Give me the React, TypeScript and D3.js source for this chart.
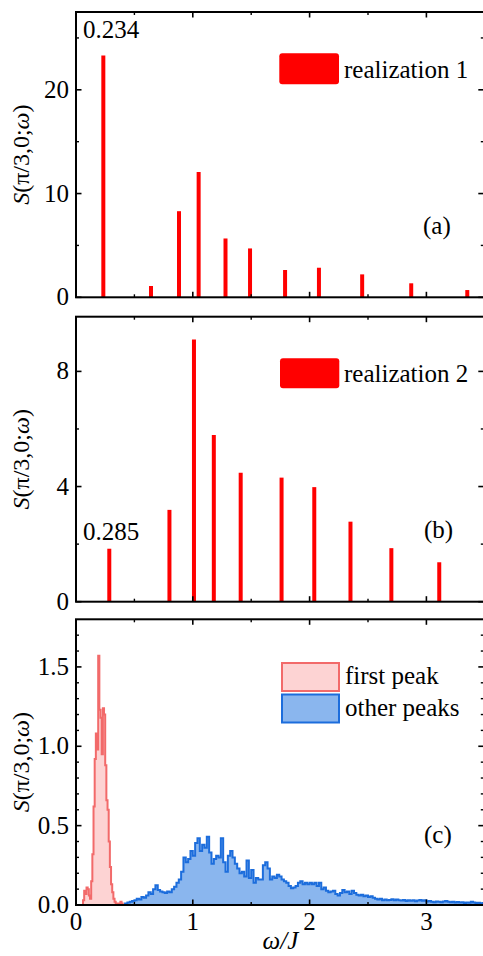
import React from "react";
import * as d3 from "d3";

// ---------- data ----------
const realization1Omega = [0.234, 0.642, 0.882, 1.05, 1.28, 1.49, 1.79, 2.08, 2.45, 2.87, 3.35];
const realization1S = [23.3, 1.09, 8.3, 12.08, 5.67, 4.71, 2.63, 2.85, 2.21, 1.35, 0.7];
const realization2Omega = [0.285, 0.8, 1.01, 1.18, 1.41, 1.76, 2.04, 2.35, 2.7, 3.11];
const realization2S = [1.84, 3.19, 9.11, 5.79, 4.48, 4.31, 3.98, 2.78, 1.86, 1.37];

const firstPeakStart = 0.06;
const firstPeakBin = 0.01;
const firstPeakValues = [
  0.03, 0.09, 0.07, 0.11, 0.1, 0.06, 0.04, 0.15, 0.32, 0.62,
  0.92, 1.08, 0.98, 1.57, 1.23, 1.18, 0.95, 1.24, 1.2, 0.88,
  0.66, 0.6, 0.4, 0.24, 0.13, 0.08, 0.04, 0.02, 0.01, 0.01,
  0.0, 0.01, 0.02, 0.01, 0.0,
];

const otherPeaksStart = 0.42;
const otherPeaksBin = 0.02;
const otherPeaksValues = [
  0.01, 0.015, 0.02, 0.025, 0.03, 0.04, 0.035, 0.05, 0.045, 0.06,
  0.08, 0.07, 0.1, 0.125, 0.095, 0.085, 0.08, 0.075, 0.085, 0.08,
  0.1, 0.115, 0.14, 0.16, 0.21, 0.3, 0.27, 0.29, 0.34, 0.31,
  0.39, 0.42, 0.34, 0.38, 0.36, 0.43, 0.33, 0.26, 0.29, 0.31,
  0.3, 0.42, 0.27, 0.21, 0.31, 0.34, 0.3, 0.26, 0.23, 0.2,
  0.21, 0.18, 0.28, 0.17, 0.22, 0.14, 0.17, 0.16, 0.16, 0.25,
  0.27, 0.23, 0.16, 0.18, 0.17, 0.19, 0.18, 0.16, 0.15, 0.14,
  0.12, 0.105, 0.11, 0.12, 0.14, 0.15, 0.13, 0.14, 0.13, 0.14,
  0.13, 0.14, 0.12, 0.14, 0.1, 0.11, 0.09, 0.08, 0.085, 0.09,
  0.07, 0.06, 0.075, 0.095, 0.08, 0.085, 0.07, 0.09, 0.075, 0.065,
  0.06, 0.065, 0.055, 0.06, 0.05, 0.055, 0.045, 0.04, 0.035, 0.04,
  0.03, 0.035, 0.03, 0.032, 0.036, 0.03, 0.034, 0.03, 0.028, 0.032,
  0.025, 0.03, 0.027, 0.03, 0.024, 0.028, 0.032, 0.026, 0.03, 0.022,
  0.025, 0.02, 0.018, 0.022, 0.02, 0.017, 0.022, 0.025, 0.02, 0.018,
  0.02, 0.016, 0.019, 0.015, 0.017, 0.013, 0.016, 0.014, 0.02, 0.015,
  0.012, 0.014, 0.01, 0.012,
];

const xMajorTicks = [0, 1, 2, 3];
const xMinorTicks = [0.5, 1.5, 2.5, 3.5];
const yMajorA = [0, 10, 20];
const yMinorA = [5, 15, 25];
const yMajorB = [0, 4, 8];
const yMinorB = [2, 6];
const yMajorC = [0, 0.5, 1.0, 1.5];
const yMinorC = [0.1, 0.2, 0.3, 0.4, 0.6, 0.7, 0.8, 0.9, 1.1, 1.2, 1.3, 1.4, 1.6, 1.7];

// ---------- layout ----------
const W = 483;
const H = 956;
const LEFT = 76;
const RIGHT = 484.8;
const FS = 25;
const FONT = "Liberation Serif, Tinos, Times New Roman, Times, DejaVu Serif, serif";
const RED = "#ff0000";
const PINK_FILL = "#fdd3d3";
const PINK_LINE = "#f26a6a";
const BLUE_FILL = "#8ab6ee";
const BLUE_LINE = "#1c6ddc";
const TXT: React.CSSProperties = { fontFamily: FONT };

const x = d3.scaleLinear().domain([0, 3.5]).range([LEFT, RIGHT]);

type PanelProps = {
  top: number;
  bottom: number;
  yMax: number;
  yMajor: number[];
  yMinor: number[];
  fmt: (v: number) => string;
  xLabels?: boolean;
  children: (y: d3.ScaleLinear<number, number>) => React.ReactNode;
};

function Panel({ top, bottom, yMax, yMajor, yMinor, fmt, xLabels, children }: PanelProps) {
  const y = d3.scaleLinear().domain([0, yMax]).range([bottom, top]);
  const cy = (top + bottom) / 2;
  const maj = 5.5;
  const min = 3;
  return (
    <g>
      {children(y)}
      {xMajorTicks.map((t) => (
        <g key={"xM" + t}>
          <line x1={x(t)} x2={x(t)} y1={bottom} y2={bottom - maj} stroke="#000" strokeWidth={1.6} />
          <line x1={x(t)} x2={x(t)} y1={top} y2={top + maj} stroke="#000" strokeWidth={1.6} />
        </g>
      ))}
      {xMinorTicks.map((t) => (
        <g key={"xm" + t}>
          <line x1={x(t)} x2={x(t)} y1={bottom} y2={bottom - min} stroke="#000" strokeWidth={1.4} />
          <line x1={x(t)} x2={x(t)} y1={top} y2={top + min} stroke="#000" strokeWidth={1.4} />
        </g>
      ))}
      {yMajor.map((t) => (
        <g key={"yM" + t}>
          <line x1={LEFT} x2={LEFT + maj} y1={y(t)} y2={y(t)} stroke="#000" strokeWidth={1.6} />
          <line x1={RIGHT} x2={RIGHT - maj - 1} y1={y(t)} y2={y(t)} stroke="#000" strokeWidth={1.6} />
          <text x={LEFT - 7} y={y(t) + 8} textAnchor="end" fontSize={FS} style={TXT}>
            {fmt(t)}
          </text>
        </g>
      ))}
      {yMinor.map((t) => (
        <g key={"ym" + t}>
          <line x1={LEFT} x2={LEFT + min} y1={y(t)} y2={y(t)} stroke="#000" strokeWidth={1.4} />
          <line x1={RIGHT} x2={RIGHT - min - 1} y1={y(t)} y2={y(t)} stroke="#000" strokeWidth={1.4} />
        </g>
      ))}
      {xLabels &&
        xMajorTicks.map((t) => (
          <text key={"xl" + t} x={x(t)} y={bottom + 25} textAnchor="middle" fontSize={FS} style={TXT}>
            {t}
          </text>
        ))}
      <rect x={LEFT} y={top} width={RIGHT - LEFT} height={bottom - top} fill="none" stroke="#000" strokeWidth={2} />
      <text transform={`translate(29, ${cy}) rotate(-90)`} textAnchor="middle" fontSize={24} style={TXT}>
        <tspan fontStyle="italic">S</tspan>(π/3,0;<tspan fontStyle="italic">ω</tspan>)
      </text>
    </g>
  );
}

function histPoints(start: number, bin: number, vals: number[]): [number, number][] {
  const pts: [number, number][] = [[start, 0]];
  vals.forEach((v, i) => pts.push([start + i * bin, v]));
  const end = start + vals.length * bin;
  pts.push([end, vals[vals.length - 1]]);
  pts.push([end, 0]);
  return pts;
}

export default function App() {
  const firstPts = histPoints(firstPeakStart, firstPeakBin, firstPeakValues);
  const otherPts = histPoints(otherPeaksStart, otherPeaksBin, otherPeaksValues);
  return (
    <svg
      width={W}
      height={H}
      style={{ position: "absolute", left: 0, top: 0, background: "#fff", fontFamily: FONT }}
    >
      <Panel top={12} bottom={297.3} yMax={27.5} yMajor={yMajorA} yMinor={yMinorA} fmt={(v) => String(v)}>
        {(y) => (
          <g style={TXT}>
            {realization1Omega.map((w, i) => (
              <line key={i} x1={x(w)} x2={x(w)} y1={y(0)} y2={y(realization1S[i])} stroke={RED} strokeWidth={4} />
            ))}
            <rect x={279.3} y={53.3} width={59.7} height={31} rx={3} fill={RED} />
            <text x={344} y={78} fontSize={FS}>realization 1</text>
            <text x={83} y={38} fontSize={FS}>0.234</text>
            <text x={423} y={234} fontSize={FS}>(a)</text>
          </g>
        )}
      </Panel>
      <Panel top={316.7} bottom={601.7} yMax={9.9} yMajor={yMajorB} yMinor={yMinorB} fmt={(v) => String(v)}>
        {(y) => (
          <g style={TXT}>
            {realization2Omega.map((w, i) => (
              <line key={i} x1={x(w)} x2={x(w)} y1={y(0)} y2={y(realization2S[i])} stroke={RED} strokeWidth={4} />
            ))}
            <rect x={280} y={358.3} width={59.3} height={30} rx={3} fill={RED} />
            <text x={344} y={382} fontSize={FS}>realization 2</text>
            <text x={83} y={540} fontSize={FS}>0.285</text>
            <text x={424} y={538} fontSize={FS}>(b)</text>
          </g>
        )}
      </Panel>
      <Panel
        top={619.3}
        bottom={905}
        yMax={1.8}
        yMajor={yMajorC}
        yMinor={yMinorC}
        fmt={d3.format(".1f")}
        xLabels
      >
        {(y) => {
          const area = d3
            .area<[number, number]>()
            .x((d) => x(d[0]))
            .y0(y(0))
            .y1((d) => y(d[1]))
            .curve(d3.curveStepAfter);
          const line = d3
            .line<[number, number]>()
            .x((d) => x(d[0]))
            .y((d) => y(d[1]))
            .curve(d3.curveStepAfter);
          return (
            <g style={TXT}>
              <path d={area(otherPts) || ""} fill={BLUE_FILL} />
              <path d={line(otherPts) || ""} fill="none" stroke={BLUE_LINE} strokeWidth={2} />
              <path d={area(firstPts) || ""} fill={PINK_FILL} />
              <path d={line(firstPts) || ""} fill="none" stroke={PINK_LINE} strokeWidth={2} />
              <rect x={282} y={663} width={57} height={28} fill={PINK_FILL} stroke={PINK_LINE} strokeWidth={2} />
              <rect x={282} y={694.5} width={57} height={28} fill={BLUE_FILL} stroke={BLUE_LINE} strokeWidth={2} />
              <text x={345} y={684} fontSize={FS}>first peak</text>
              <text x={345} y={716} fontSize={FS}>other peaks</text>
              <text x={424} y={843} fontSize={FS}>(c)</text>
            </g>
          );
        }}
      </Panel>
      <text x={(LEFT + RIGHT) / 2} y={949} textAnchor="middle" fontSize={FS} fontStyle="italic" style={TXT}>
        ω/J
      </text>
    </svg>
  );
}
